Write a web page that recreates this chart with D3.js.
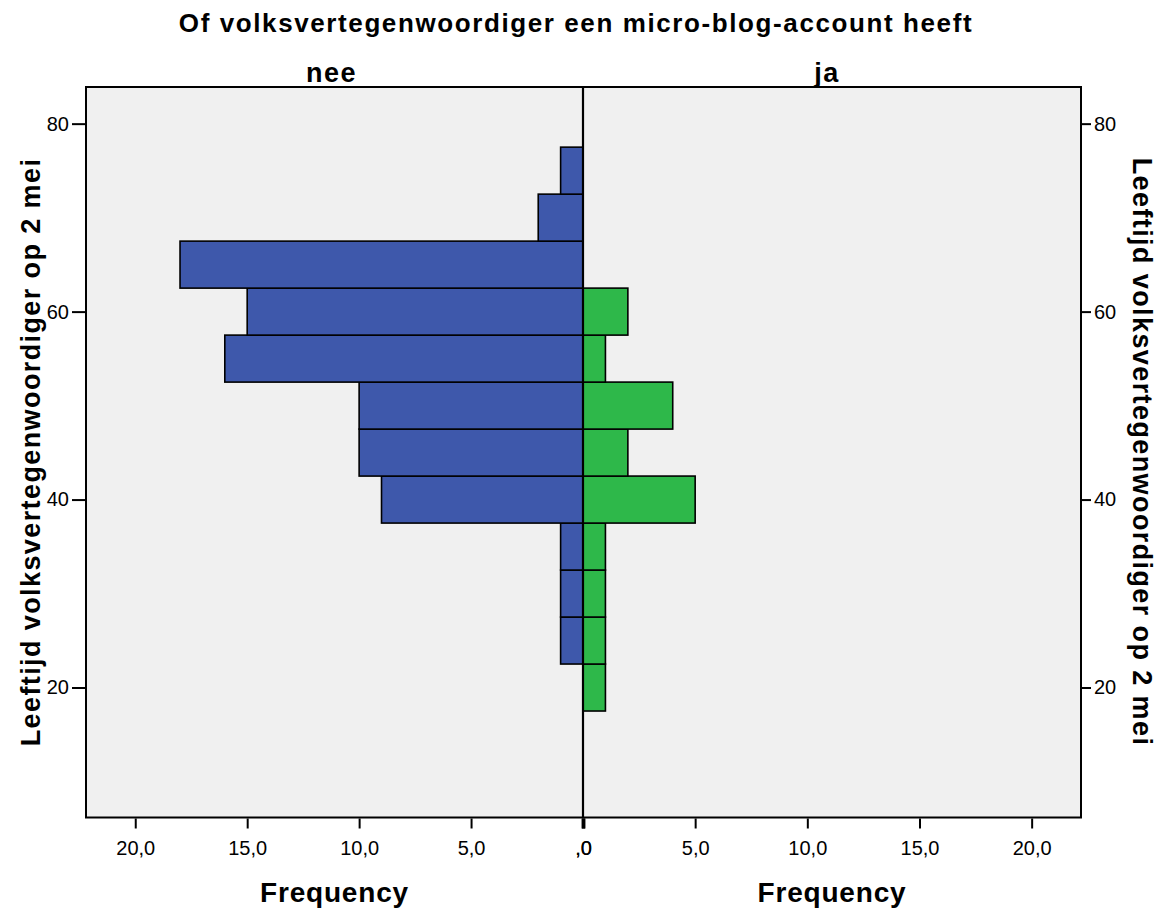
<!DOCTYPE html>
<html>
<head>
<meta charset="utf-8">
<script src="https://cdn.jsdelivr.net/npm/d3@7"></script>
<style>
  body { margin: 0; background: #fff; }
  svg text { font-family: Arial, "Liberation Sans", sans-serif; fill: #000; }
  .axis path { display: none; }
  .axis line { stroke: #000; stroke-width: 2; }
  .axis text { font-size: 20px; }
</style>
</head>
<body>
<div id="chart"></div>
<script>
// lower edge of each 5-year age bin (last bin ends at 77.5)
const binStarts = [17.5, 22.5, 27.5, 32.5, 37.5, 42.5, 47.5, 52.5, 57.5, 62.5, 67.5, 72.5];
const binWidth = 5;
const neeCounts = [0, 1, 1, 1, 9, 10, 10, 16, 15, 18, 2, 1];
const jaCounts = [1, 1, 1, 1, 5, 2, 4, 1, 2, 0, 0, 0];
const freqTicks = [0, 5, 10, 15, 20];
const ageTicks = [20, 40, 60, 80];

const W = 1164, H = 908;
const plot = {left: 86, right: 1081, top: 87, bottom: 817.5};
const mid = 583;

const svg = d3.select('#chart').append('svg')
  .attr('width', W)
  .attr('height', H);

const y = d3.scaleLinear()
  .domain([6.17, 83.9])
  .range([plot.bottom, plot.top]);

const xLeft = d3.scaleLinear()
  .domain([0, 22.2])
  .range([mid, plot.left]);

const xRight = d3.scaleLinear()
  .domain([0, 22.2])
  .range([mid, plot.right]);

const fmt = d => d === 0 ? ',0' : d.toFixed(1).replace('.', ',');

// plot background
svg.append('rect')
  .attr('x', plot.left)
  .attr('y', plot.top)
  .attr('width', plot.right - plot.left)
  .attr('height', plot.bottom - plot.top)
  .attr('fill', '#f0f0f0');

const bins = binStarts.map((b, i) => ({lo: b, hi: b + binWidth, nee: neeCounts[i], ja: jaCounts[i]}));

// nee bars (grow to the left)
svg.append('g').selectAll('rect')
  .data(bins.filter(d => d.nee > 0))
  .enter()
  .append('rect')
  .attr('x', d => xLeft(d.nee))
  .attr('y', d => y(d.hi))
  .attr('width', d => xLeft(0) - xLeft(d.nee))
  .attr('height', d => y(d.lo) - y(d.hi))
  .attr('fill', '#3e58ab')
  .attr('stroke', '#000')
  .attr('stroke-width', 1.6);

// ja bars (grow to the right)
svg.append('g').selectAll('rect')
  .data(bins.filter(d => d.ja > 0))
  .enter()
  .append('rect')
  .attr('x', d => xRight(0))
  .attr('y', d => y(d.hi))
  .attr('width', d => xRight(d.ja) - xRight(0))
  .attr('height', d => y(d.lo) - y(d.hi))
  .attr('fill', '#2eb84a')
  .attr('stroke', '#000')
  .attr('stroke-width', 1.6);

// centre line
svg.append('line')
  .attr('x1', mid).attr('x2', mid)
  .attr('y1', plot.top).attr('y2', plot.bottom)
  .attr('stroke', '#000')
  .attr('stroke-width', 2.2);

// frame
svg.append('rect')
  .attr('x', plot.left)
  .attr('y', plot.top)
  .attr('width', plot.right - plot.left)
  .attr('height', plot.bottom - plot.top)
  .attr('fill', 'none')
  .attr('stroke', '#000')
  .attr('stroke-width', 2);

// x axes
[xLeft, xRight].forEach(sc => {
  const g = svg.append('g')
    .attr('class', 'axis')
    .attr('transform', `translate(0,${plot.bottom + 1})`)
    .call(d3.axisBottom(sc).tickValues(freqTicks).tickSize(10).tickPadding(12).tickFormat(fmt));
  g.selectAll('.tick').filter(d => d === 0).select('line').style('stroke-width', 3.5);
});

// y axes
svg.append('g')
  .attr('class', 'axis')
  .attr('transform', `translate(${plot.left},0)`)
  .call(d3.axisLeft(y).tickValues(ageTicks).tickSize(14).tickPadding(3));

svg.append('g')
  .attr('class', 'axis')
  .attr('transform', `translate(${plot.right},0)`)
  .call(d3.axisRight(y).tickValues(ageTicks).tickSize(10).tickPadding(3));

// titles
svg.append('text')
  .attr('x', 576).attr('y', 32)
  .attr('text-anchor', 'middle')
  .style('font-size', '26px').style('font-weight', 'bold')
  .style('letter-spacing', '1.6px')
  .text('Of volksvertegenwoordiger een micro-blog-account heeft');

svg.append('text')
  .attr('x', (plot.left + mid) / 2 - 3).attr('y', 82)
  .attr('text-anchor', 'middle')
  .style('font-size', '27px').style('font-weight', 'bold')
  .style('letter-spacing', '1.5px')
  .text('nee');

svg.append('text')
  .attr('x', (plot.right + mid) / 2 - 5).attr('y', 82)
  .attr('text-anchor', 'middle')
  .style('font-size', '27px').style('font-weight', 'bold')
  .style('letter-spacing', '1.5px')
  .text('ja');

[(plot.left + mid) / 2, (plot.right + mid) / 2].forEach(cx => {
  svg.append('text')
    .attr('x', cx).attr('y', 902)
    .attr('text-anchor', 'middle')
    .style('font-size', '28px').style('font-weight', 'bold')
    .style('letter-spacing', '0.8px')
    .text('Frequency');
});

svg.append('text')
  .attr('transform', 'translate(40,452) rotate(-90)')
  .attr('text-anchor', 'middle')
  .style('font-size', '27px').style('font-weight', 'bold')
  .style('letter-spacing', '1.4px')
  .text('Leeftijd volksvertegenwoordiger op 2 mei');

svg.append('text')
  .attr('transform', 'translate(1133,452) rotate(90)')
  .attr('text-anchor', 'middle')
  .style('font-size', '27px').style('font-weight', 'bold')
  .style('letter-spacing', '1.4px')
  .text('Leeftijd volksvertegenwoordiger op 2 mei');
</script>
</body>
</html>
